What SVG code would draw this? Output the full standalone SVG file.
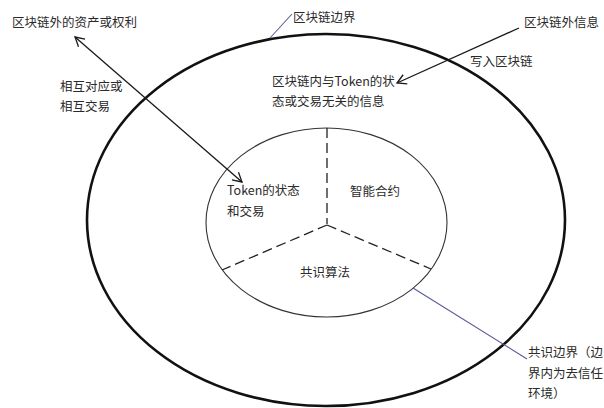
<svg xmlns="http://www.w3.org/2000/svg" width="604" height="408" viewBox="0 0 604 408">
  <defs>
    <style>
      text { font-family: "Noto Sans CJK SC", "Noto Sans", sans-serif; font-size: 12.5px; fill: #2a2a2a; }
      .outer { fill: none; stroke: #111; stroke-width: 2.6; }
      .inner { fill: none; stroke: #333; stroke-width: 1.1; }
      .dash { fill: none; stroke: #222; stroke-width: 1.3; stroke-dasharray: 10 5; }
      .arrow { fill: none; stroke: #1a1a1a; stroke-width: 1.3; }
      .leader { fill: none; stroke: #5a5a9a; stroke-width: 1.1; }
    </style>
    <marker id="open" markerUnits="userSpaceOnUse" markerWidth="14" markerHeight="14" refX="10" refY="6" orient="auto-start-reverse" viewBox="0 0 14 12">
      <path d="M1,1 L10,6 L1,11" fill="none" stroke="#1a1a1a" stroke-width="1.3"/>
    </marker>
  </defs>
  <rect width="604" height="408" fill="#fff"/>

  <g id="blockchain-boundary">
    <ellipse class="outer" cx="326" cy="220" rx="239" ry="186"/>
    <text x="293" y="22">区块链边界</text>
  </g>

  <g id="consensus-boundary">
    <ellipse class="inner" cx="326.5" cy="222.5" rx="120.5" ry="94.5"/>
    <path class="dash" d="M327,128 L327,224"/>
    <path class="dash" d="M327,225 L222,270"/>
    <path class="dash" d="M327,225 L431,269"/>
  </g>

  <g id="offchain-assets">
    <text x="12" y="27">区块链外的资产或权利</text>
  </g>

  <g id="offchain-info">
    <text x="524" y="27">区块链外信息</text>
  </g>

  <g id="onchain-other-info">
    <text x="272" y="86">区块链内与Token的状</text>
    <text x="272" y="106">态或交易无关的信息</text>
  </g>

  <g id="token-state">
    <text x="227" y="195">Token的状态</text>
    <text x="227" y="216">和交易</text>
  </g>

  <g id="smart-contract">
    <text x="350" y="196">智能合约</text>
  </g>

  <g id="consensus-algorithm">
    <text x="300" y="277">共识算法</text>
  </g>

  <g id="consensus-boundary-label">
    <text x="528" y="357">共识边界（边</text>
    <text x="528" y="378">界内为去信任</text>
    <text x="528" y="398">环境）</text>
  </g>

  <g id="connectors">
    <line class="arrow" x1="75" y1="37" x2="242" y2="182" marker-start="url(#open)" marker-end="url(#open)"/>
    <text x="60" y="91">相互对应或</text>
    <text x="60" y="111">相互交易</text>
    <line class="arrow" x1="519" y1="28" x2="397" y2="83" marker-end="url(#open)"/>
    <text x="470" y="66">写入区块链</text>
    <line class="leader" x1="270" y1="38" x2="292" y2="14"/>
    <line class="leader" x1="413" y1="288" x2="527" y2="359"/>
  </g>
</svg>
